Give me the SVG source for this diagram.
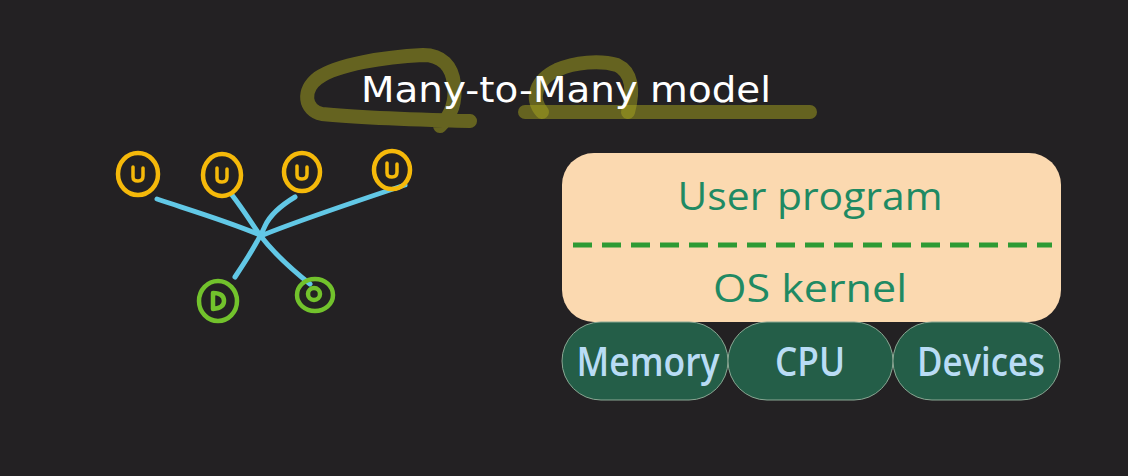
<svg xmlns="http://www.w3.org/2000/svg" width="1128" height="476" viewBox="0 0 1128 476">
<style>
.hl{fill:none;stroke:#a8a61e;stroke-opacity:0.5;stroke-width:14;stroke-linecap:round;stroke-linejoin:round}
.u{fill:none;stroke:#f5b90a;stroke-width:4.5;stroke-linecap:round;stroke-linejoin:round}
.ui{fill:none;stroke:#f5b90a;stroke-width:3.5;stroke-linecap:round;stroke-linejoin:round}
.k{fill:none;stroke:#72c22c;stroke-width:4.5;stroke-linecap:round;stroke-linejoin:round}
.ln{fill:none;stroke:#62c8e6;stroke-width:5;stroke-linecap:round}
.hand{font-family:"Open Sans","DejaVu Sans",sans-serif}
.pill{fill:#245e48;stroke:#8aa894;stroke-width:1}
.pt{fill:#b9dcf5;font-size:40px;font-weight:600;text-anchor:middle}
.gt{fill:#1f8a63;font-size:38px;text-anchor:middle}
</style>
<rect width="1128" height="476" fill="#232123"/>
<g id="title">
<path class="hl" d="M470,121 C430,120 360,118 322,114 C304,110 302,90 318,78 C338,64 385,57 423,55 C442,55 452,66 454,84 C456,100 452,115 440,126"/>
<path class="hl" d="M542,112 C530,98 536,80 557,70 C575,62 600,60 617,65 C632,72 634,90 628,112"/>
<path class="hl" d="M525,112 L810,112"/>
<text x="566" y="102" fill="#ffffff" font-family="'DejaVu Sans',sans-serif" font-size="36" text-anchor="middle" textLength="410" lengthAdjust="spacingAndGlyphs">Many-to-Many model</text>
</g>
<g id="connectors">
<path class="ln" d="M157,199 C190,210 230,222 260,235"/>
<path class="ln" d="M232,195 C245,212 252,224 260,235 C275,255 295,272 310,284"/>
<path class="ln" d="M295,197 C280,206 270,215 265,226 C258,242 245,262 235,277"/>
<path class="ln" d="M405,185 C360,200 300,220 263,235"/>
</g>
<g id="u1"><ellipse class="u" cx="138" cy="174" rx="20" ry="21"/><path class="ui" d="M133,167 L133,177 Q133,181 138,181 Q143,181 143,176 L143,168"/></g>
<g id="u2"><ellipse class="u" cx="222" cy="175" rx="19" ry="21"/><path class="ui" d="M217,168 L217,178 Q217,182 222,182 Q227,182 227,177 L227,169"/></g>
<g id="u3"><ellipse class="u" cx="302" cy="172" rx="18" ry="19"/><path class="ui" d="M297,166 L297,175 Q297,179 302,179 Q307,179 307,174 L307,167"/></g>
<g id="u4"><ellipse class="u" cx="392" cy="170" rx="18" ry="19"/><path class="ui" d="M387,163 L387,173 Q387,177 392,177 Q397,177 397,172 L397,164"/></g>
<g id="k1"><ellipse class="k" cx="218" cy="301" rx="19" ry="20"/><path class="k" d="M213,293 L213,309 Q224,308 224,301 Q224,293 213,293"/></g>
<g id="k2"><ellipse class="k" cx="315" cy="295" rx="18" ry="16"/><ellipse class="k" cx="314" cy="294" rx="6" ry="6"/></g>
<g id="stack">
<rect x="562" y="153" width="499" height="169" rx="32" fill="#fbd9b0"/>
<text class="hand gt" x="810" y="210" textLength="265" lengthAdjust="spacingAndGlyphs">User program</text>
<line x1="573" y1="245" x2="1052" y2="245" stroke="#2e9a34" stroke-width="5" stroke-dasharray="19 10"/>
<text class="hand gt" x="810" y="302" textLength="194" lengthAdjust="spacingAndGlyphs">OS kernel</text>
</g>
<g id="memory"><rect class="pill" x="562" y="322" width="166" height="78" rx="39"/><text class="hand pt" x="648" y="376" textLength="143" lengthAdjust="spacingAndGlyphs">Memory</text></g>
<g id="cpu"><rect class="pill" x="728" y="322" width="165" height="78" rx="39"/><text class="hand pt" x="810" y="376" textLength="70" lengthAdjust="spacingAndGlyphs">CPU</text></g>
<g id="devices"><rect class="pill" x="893" y="322" width="167" height="78" rx="39"/><text class="hand pt" x="981" y="376" textLength="128" lengthAdjust="spacingAndGlyphs">Devices</text></g>
</svg>
